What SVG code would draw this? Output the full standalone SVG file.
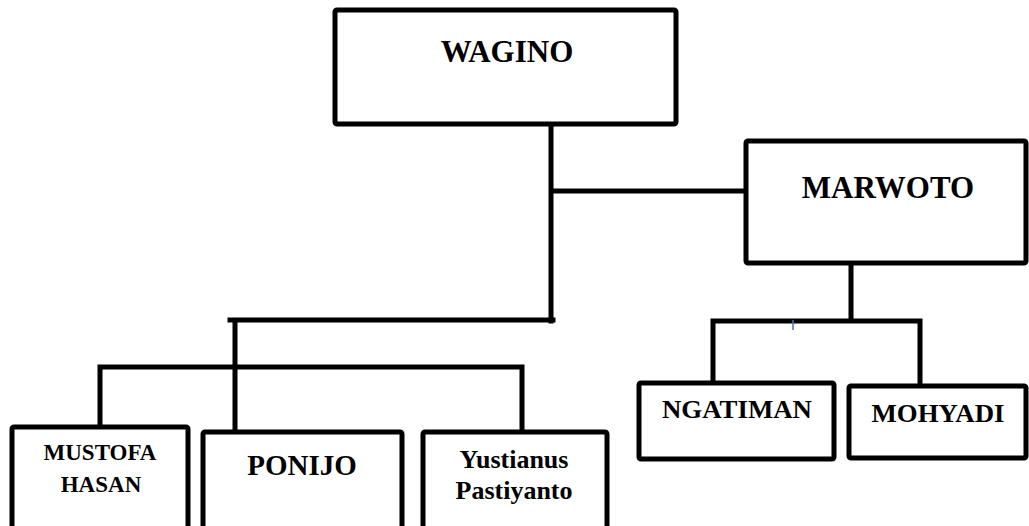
<svg xmlns="http://www.w3.org/2000/svg" width="1029" height="526" viewBox="0 0 1029 526">
<style>
.box{fill:#fff;stroke:#000;stroke-width:5;stroke-linejoin:round}
.ln{fill:none;stroke:#000;stroke-width:5;stroke-linecap:square}
.t{font-family:"Liberation Serif","Times New Roman",serif;font-weight:bold;fill:#000;text-anchor:middle}
</style>
<rect width="1029" height="526" fill="#fff"/>
<g id="connectors">
<path class="ln" d="M551 124V321M551 191H745M230 320H553M235 320V430M100 367H521M100 367V425M522 367V430M851 264V321M713 321H920M713 321V382M920 321V385"/>
<path d="M793 320V330" stroke="#4472c4" stroke-width="1.5" fill="none"/>
</g>
<g id="wagino"><rect class="box" x="335" y="10" width="341" height="114" rx="2"/><text class="t" x="507" y="62" font-size="31">WAGINO</text></g>
<g id="marwoto"><rect class="box" x="746" y="141" width="280" height="122" rx="2"/><text class="t" x="888" y="198" font-size="31">MARWOTO</text></g>
<g id="mustofa"><rect class="box" x="12" y="427" width="176" height="110" rx="2"/><text class="t" x="100" y="460" font-size="23">MUSTOFA</text><text class="t" x="101" y="492" font-size="23">HASAN</text></g>
<g id="ponijo"><rect class="box" x="203" y="432" width="199" height="110" rx="2"/><text class="t" x="302" y="475" font-size="29">PONIJO</text></g>
<g id="yustianus"><rect class="box" x="423" y="432" width="184" height="110" rx="2"/><text class="t" x="514" y="468" font-size="26">Yustianus</text><text class="t" x="514" y="499" font-size="26">Pastiyanto</text></g>
<g id="ngatiman"><rect class="box" x="639" y="383" width="195" height="76" rx="2"/><text class="t" x="737" y="418" font-size="25" textLength="150" lengthAdjust="spacingAndGlyphs">NGATIMAN</text></g>
<g id="mohyadi"><rect class="box" x="849" y="386" width="177" height="72" rx="2"/><text class="t" x="938" y="422" font-size="26" textLength="133" lengthAdjust="spacingAndGlyphs">MOHYADI</text></g>
</svg>
